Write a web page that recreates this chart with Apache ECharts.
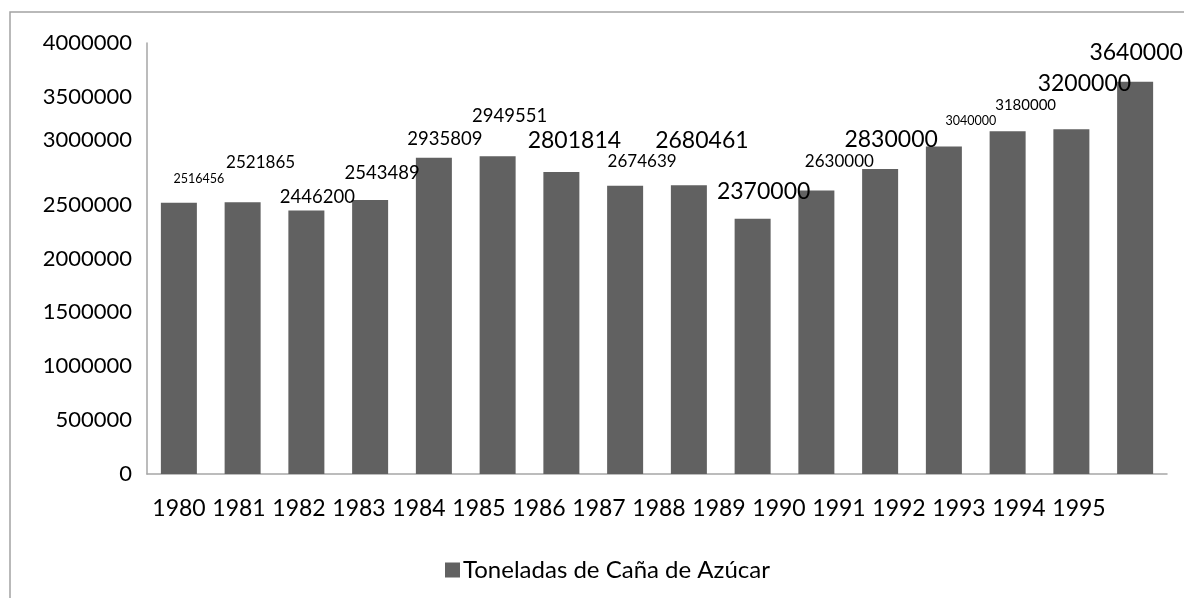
<!DOCTYPE html>
<html>
<head>
<meta charset="utf-8">
<title>Toneladas de Caña de Azúcar</title>
<script src="https://cdn.jsdelivr.net/npm/echarts@6/dist/echarts.min.js"></script>
<style>
  html, body { margin: 0; padding: 0; background: #fff; }
  #chart { width: 1184px; height: 598px; }
</style>
</head>
<body>
<div id="chart"></div>
<script>
const years = ['1980', '1981', '1982', '1983', '1984', '1985', '1986', '1987',
  '1988', '1989', '1990', '1991', '1992', '1993', '1994', '1995']
const toneladas = [2516456, 2521865, 2446200, 2543489, 2935809, 2949551, 2801814, 2674639,
  2680461, 2370000, 2630000, 2830000, 3040000, 3180000, 3200000, 3640000]
const seriesName = 'Toneladas de Caña de Azúcar'

// the labels in the original sit at odd spots / sizes: [fontSize, dx, dy] from bar top-left
const labelLook = [
  [12.5, 38, -24], [17, 36, -40], [18.5, 29, -13], [18.5, 30, -27],
  [18.5, 29, -19], [18.5, 30, -40], [23, 31, -32], [17, 35, -24],
  [23, 31, -45], [23, 29, -27], [17, 41, -29], [23, 29, -29],
  [12.5, 45, -25], [15, 36, -26], [23, 31, -46], [23, 19, -29]
]

const font = 'Lato'
const chart = echarts.init(document.getElementById('chart'))

const barData = toneladas.map((v, i) => ({
  value: v,
  label: {
    show: true,
    position: [labelLook[i][1], labelLook[i][2]],
    align: 'center',
    verticalAlign: 'middle',
    fontSize: labelLook[i][0],
    fontFamily: font,
    color: '#000'
  }
}))

const option = {
  animation: false,
  backgroundColor: '#fff',
  graphic: [
    {
      type: 'polyline',
      shape: { points: [[10, 598], [10, 12], [1184, 12]] },
      style: { stroke: '#a3a3a3', lineWidth: 1.5, fill: null }
    }
  ],
  legend: {
    left: 440,
    top: 553,
    itemWidth: 15,
    itemHeight: 15,
    itemGap: 7,
    icon: 'rect',
    textStyle: { fontFamily: font, fontSize: 24, color: '#000', padding: [0, 0, 0, -2] },
    data: [seriesName]
  },
  grid: [
    { left: 147, right: 17, top: 43, bottom: 124 },
    { left: 149, width: 960, top: 43, bottom: 124 }
  ],
  xAxis: [
    {
      type: 'category',
      gridIndex: 0,
      data: years,
      axisLine: { lineStyle: { color: '#a6a6a6', width: 1.5 } },
      axisTick: { show: false },
      axisLabel: { show: false }
    },
    {
      type: 'category',
      gridIndex: 1,
      data: years,
      axisLine: { show: false },
      axisTick: { show: false },
      axisLabel: { interval: 0, hideOverlap: false, margin: 23, fontFamily: font, fontSize: 23, color: '#000' }
    }
  ],
  yAxis: [
    {
      type: 'value',
      gridIndex: 0,
      min: 0,
      max: 4000000,
      interval: 500000,
      axisLine: { show: true, lineStyle: { color: '#a6a6a6', width: 1.5 } },
      axisTick: { show: false },
      splitLine: { show: false },
      axisLabel: {
        margin: 15,
        fontFamily: font,
        fontSize: 22,
        color: '#000',
        formatter: v => (v === 3000000 ? '{hi|' + v + '}' : String(v)),
        rich: { hi: { fontFamily: font, fontSize: 22, color: '#000', padding: [0, 0, 22, 0] } }
      }
    },
    {
      type: 'value',
      gridIndex: 1,
      show: false
    }
  ],
  series: [
    {
      name: seriesName,
      type: 'bar',
      xAxisIndex: 0,
      yAxisIndex: 0,
      barWidth: 36,
      itemStyle: { color: '#616161' },
      data: barData
    }
  ]
}

chart.setOption(option)
window.addEventListener('resize', () => chart.resize())
</script>
</body>
</html>
